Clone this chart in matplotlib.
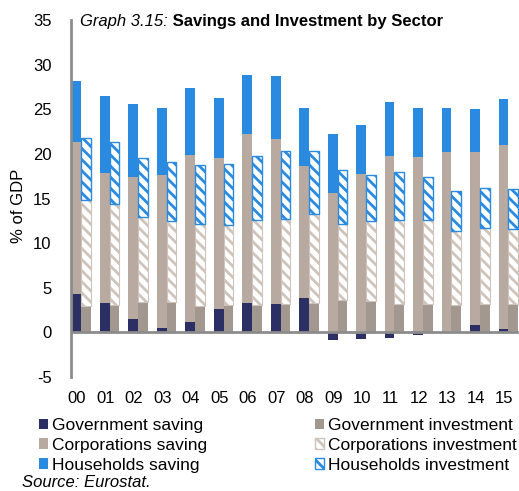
import matplotlib.pyplot as plt
import numpy as np
from matplotlib.patches import Patch

plt.rcParams['font.family'] = ['Liberation Sans', 'DejaVu Sans']
plt.rcParams['axes.unicode_minus'] = False
plt.rcParams['hatch.linewidth'] = 2.0

years = ['00', '01', '02', '03', '04', '05', '06', '07',
         '08', '09', '10', '11', '12', '13', '14', '15']

## SAVING (% of GDP)
gov_sav = [4.3, 3.3, 1.5, 0.5, 1.2, 2.6, 3.3, 3.2, 3.9, -0.9, -0.7, -0.6, -0.3, 0.0, 0.8, 0.4]
corp_sav = [17.0, 14.6, 15.9, 17.2, 18.7, 16.9, 18.9, 18.5, 14.8, 15.6, 17.8, 19.8, 19.7, 20.2, 19.4, 20.6]
hh_sav = [6.9, 8.6, 8.2, 7.5, 7.5, 6.8, 6.6, 7.0, 6.4, 6.6, 5.4, 6.0, 5.5, 5.0, 4.8, 5.2]

## INVESTMENT (% of GDP)
gov_inv = [3.0, 3.1, 3.4, 3.4, 3.0, 3.1, 3.1, 3.2, 3.3, 3.6, 3.5, 3.2, 3.2, 3.1, 3.2, 3.2]
corp_inv = [11.8, 11.3, 9.5, 9.1, 9.2, 8.9, 9.5, 9.55, 10.0, 8.5, 9.0, 9.4, 9.4, 8.3, 8.5, 8.4]
hh_inv = [7.0, 6.9, 6.6, 6.6, 6.6, 6.9, 7.2, 7.55, 7.0, 6.1, 5.1, 5.4, 4.8, 4.4, 4.5, 4.5]

c_gov_sav = '#2b2f63'
c_gov_inv = '#a39890'
c_corp_sav = '#b8aaa0'
c_corp_hatch = '#cfc4bc'
c_hh = '#2a8ae0'

x = np.arange(len(years))
w = 0.34

fig = plt.figure(figsize=(5.19, 4.91), dpi=100)
ax = fig.add_axes([0.137, 0.232, 0.863, 0.727])

gs = np.array(gov_sav)
base = np.maximum(gs, 0)
ax.bar(x - w/2, gs, w, color=c_gov_sav, zorder=2)
ax.bar(x - w/2, corp_sav, w, bottom=base, color=c_corp_sav, zorder=2)
ax.bar(x - w/2, hh_sav, w, bottom=base + np.array(corp_sav), color=c_hh, zorder=2)

gi = np.array(gov_inv)
ci = np.array(corp_inv)
ax.bar(x + w/2, gi, w, color=c_gov_inv, zorder=2)
ax.bar(x + w/2, ci, w, bottom=gi, facecolor='white', edgecolor=c_corp_hatch,
       hatch='\\\\\\', linewidth=0.8, zorder=2)
ax.bar(x + w/2, hh_inv, w, bottom=gi + ci, facecolor='white', edgecolor=c_hh,
       hatch='\\\\\\', linewidth=1.0, zorder=2)

ax.axhline(0, color='#8c8c8c', lw=2, zorder=3)
ax.set_ylim(-5, 35)
ax.set_xlim(-0.35, 15.37)
ax.set_yticks(range(-5, 36, 5))
ax.set_xticks(x - 0.15)
ax.set_xticklabels(years)
ax.tick_params(axis='both', length=0, labelsize=12)
ax.tick_params(axis='x', pad=10)
ax.tick_params(axis='y', pad=14)
for s in ['top', 'right', 'bottom']:
    ax.spines[s].set_visible(False)
ax.spines['left'].set_color('#8c8c8c')
ax.spines['left'].set_linewidth(2)
ax.set_ylabel('% of GDP', fontsize=12)
ax.yaxis.set_label_coords(-0.10, 0.48)

## TITLE
t1 = ax.text(0.02, 0.995, 'Graph 3.15:', transform=ax.transAxes, style='italic',
             fontsize=12, va='center', ha='left')
ax.annotate(' Savings and Investment by Sector', xy=(1, 0.5), xycoords=t1,
            va='center', ha='left', fontsize=12, fontweight='bold')

## LEGEND
handles = [Patch(facecolor=c_gov_sav), Patch(facecolor=c_corp_sav), Patch(facecolor=c_hh),
           Patch(facecolor=c_gov_inv),
           Patch(facecolor='white', edgecolor=c_corp_hatch, hatch='\\\\\\'),
           Patch(facecolor='white', edgecolor=c_hh, hatch='\\\\\\')]
labels = ['Government saving', 'Corporations saving', 'Households saving',
          'Government investment', 'Corporations investment', 'Households investment']
fig.legend(handles, labels, ncol=2, loc='upper left', bbox_to_anchor=(0.058, 0.166),
           frameon=False, fontsize=12.5, handlelength=0.55, handleheight=0.55,
           handletextpad=0.2, columnspacing=6.2, labelspacing=0.27, borderpad=0)

fig.text(0.042, 0.002, 'Source: Eurostat.', style='italic', fontsize=12, va='bottom')

plt.savefig('out.png', dpi=100)
